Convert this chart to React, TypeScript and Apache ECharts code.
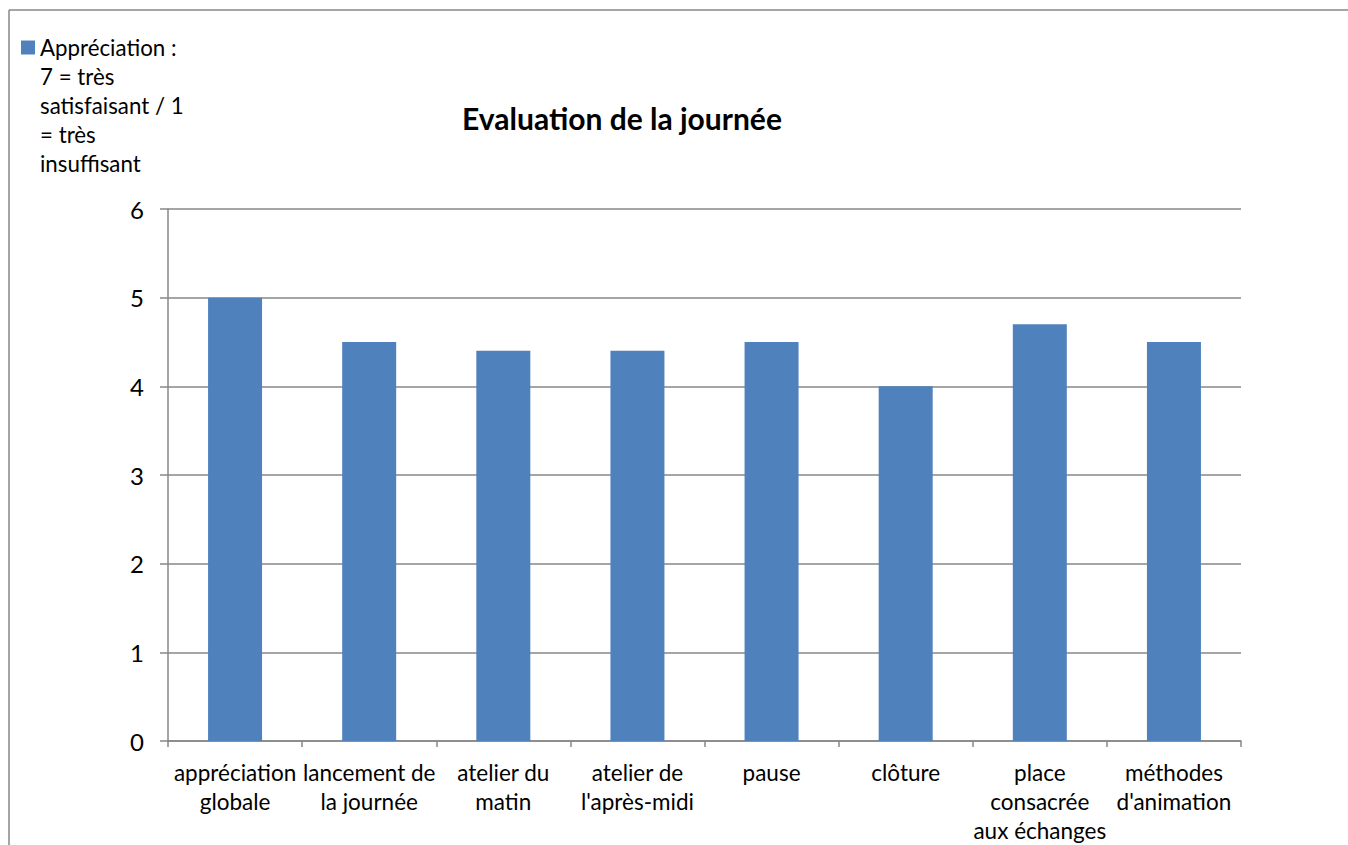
import React, { useEffect, useRef } from "react";
import * as echarts from "echarts";

const categories = [
  "appréciation\nglobale",
  "lancement de\nla journée",
  "atelier du\nmatin",
  "atelier de\nl'après-midi",
  "pause",
  "clôture",
  "place\nconsacrée\naux échanges",
  "méthodes\nd'animation",
];
const values = [5, 4.5, 4.4, 4.4, 4.5, 4.0, 4.7, 4.5];
const seriesName = "Appréciation : 7 = très satisfaisant / 1 = très insuffisant";
const legendLines = ["Appréciation :", "7 = très", "satisfaisant / 1", "= très", "insuffisant"];
const titleText = "Evaluation de la journée";

const FONT = "Lato";
const GRAY = "#878787";

export default function App() {
  const ref = useRef<HTMLDivElement>(null);
  useEffect(() => {
    if (!ref.current) return;
    const chart = echarts.init(ref.current, null, { renderer: "svg" });
    chart.setOption({
      animation: false,
      backgroundColor: "#ffffff",
      textStyle: { fontFamily: FONT },
      title: {
        text: titleText,
        left: 622,
        top: 103,
        padding: 0,
        textAlign: "center",
        textStyle: { fontFamily: FONT, fontWeight: "bold", fontSize: 30, color: "#000" },
      },
      legend: {
        left: 21,
        top: 33,
        padding: 0,
        itemWidth: 14,
        itemHeight: 130,
        icon: "path://M0,0h14v14h-14zM0,129.95h0.05v0.05h-0.05z",
        formatter: () => legendLines.join("\n"),
        textStyle: { fontFamily: FONT, fontSize: 22.3, lineHeight: 29, color: "#000" },
      },
      grid: { left: 168, right: 107, top: 209, bottom: 101, containLabel: false },
      xAxis: {
        type: "category",
        data: categories,
        axisLine: { lineStyle: { color: GRAY, width: 1.5 } },
        axisTick: { show: true, length: 6, lineStyle: { color: GRAY, width: 1.5 } },
        axisLabel: {
          interval: 0,
          margin: 17,
          fontFamily: FONT,
          fontSize: 22.5,
          lineHeight: 29,
          color: "#000",
          align: "center",
        },
      },
      yAxis: {
        type: "value",
        min: 0,
        max: 6,
        interval: 1,
        axisLine: { show: true, lineStyle: { color: GRAY, width: 1.5 } },
        axisTick: { show: true, length: 8, lineStyle: { color: GRAY, width: 1.5 } },
        splitLine: { show: true, lineStyle: { color: GRAY, width: 1.5 } },
        axisLabel: { margin: 24, fontFamily: FONT, fontSize: 24, color: "#000" },
      },
      series: [
        {
          name: seriesName,
          type: "bar",
          data: values,
          barWidth: 54,
          itemStyle: { color: "#4F81BD" },
        },
      ],
      graphic: [
        { type: "line", shape: { x1: 9, y1: 10, x2: 1348, y2: 10 }, style: { stroke: GRAY, lineWidth: 1.5 } },
        { type: "line", shape: { x1: 9, y1: 10, x2: 9, y2: 845 }, style: { stroke: GRAY, lineWidth: 1.5 } },
      ],
    });
    return () => chart.dispose();
  }, []);
  return (
    <div
      ref={ref}
      style={{ position: "fixed", left: 0, top: 0, width: 1348, height: 845, background: "#fff" }}
    />
  );
}
